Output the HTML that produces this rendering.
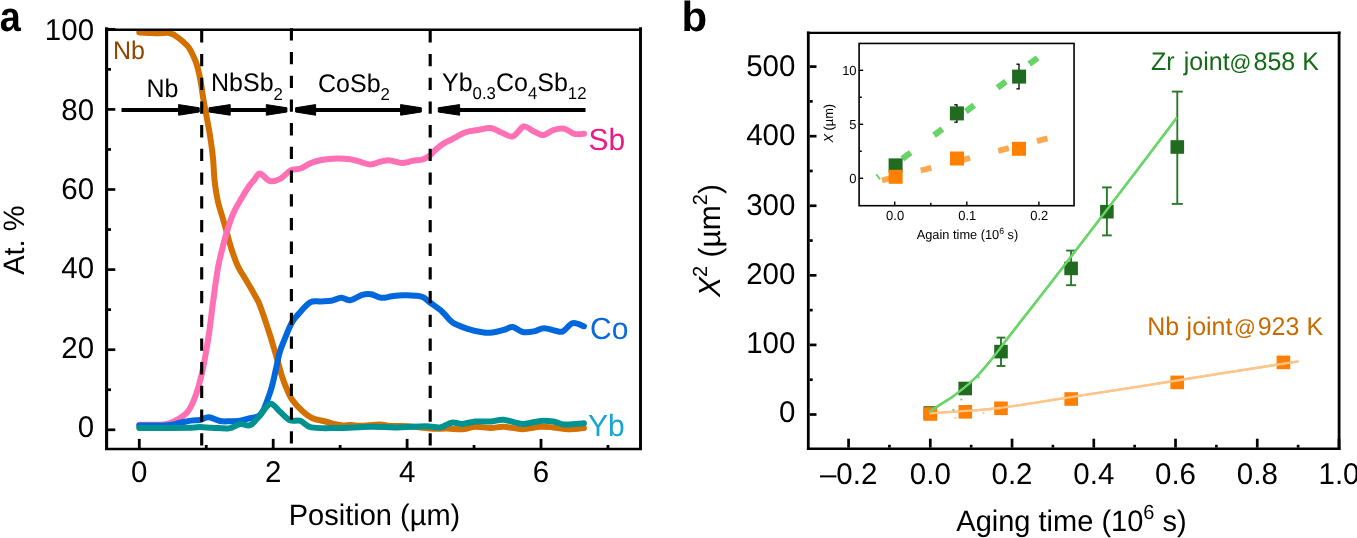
<!DOCTYPE html>
<html><head><meta charset="utf-8"><title>Figure</title>
<style>html,body{margin:0;padding:0;background:#fff;width:1357px;height:538px;overflow:hidden}</style>
</head><body>
<svg width="1357" height="538" viewBox="0 0 1357 538" text-rendering="geometricPrecision" style="display:block;font-family:'Liberation Sans', sans-serif;will-change:transform">
<rect width="1357" height="538" fill="#fff"/>
<text transform="translate(-0.3,30.6) scale(0.9,1) scale(1,1.0)" font-size="42" font-weight="bold" fill="#000">a</text>
<text x="681.5" y="31.4" font-size="42" font-weight="bold" fill="#000" transform="matrix(1,0,0,1.0,0,0.000)">b</text>
<path d="M139.30,32.40 C140.85,32.48 145.48,32.75 148.60,32.90 C151.72,33.05 154.60,33.30 158.00,33.30 C161.40,33.30 166.23,32.58 169.00,32.90 C171.77,33.22 172.43,33.88 174.60,35.20 C176.77,36.52 179.67,38.78 182.00,40.80 C184.33,42.82 186.73,44.82 188.60,47.30 C190.47,49.78 191.82,52.75 193.20,55.70 C194.58,58.65 195.87,61.78 196.90,65.00 C197.93,68.22 198.65,71.50 199.40,75.00 C200.15,78.50 200.72,81.83 201.40,86.00 C202.08,90.17 202.57,94.55 203.50,100.00 C204.43,105.45 205.88,112.55 207.00,118.70 C208.12,124.85 209.20,130.35 210.20,136.90 C211.20,143.45 212.27,150.68 213.00,158.00 C213.73,165.32 213.80,173.63 214.60,180.80 C215.40,187.97 216.65,195.47 217.80,201.00 C218.95,206.53 220.25,209.67 221.50,214.00 C222.75,218.33 223.63,221.17 225.30,227.00 C226.97,232.83 229.42,242.50 231.50,249.00 C233.58,255.50 235.38,260.83 237.80,266.00 C240.22,271.17 243.47,275.67 246.00,280.00 C248.53,284.33 250.92,288.33 253.00,292.00 C255.08,295.67 256.83,298.33 258.50,302.00 C260.17,305.67 261.47,309.67 263.00,314.00 C264.53,318.33 266.28,323.67 267.70,328.00 C269.12,332.33 270.28,336.00 271.50,340.00 C272.72,344.00 273.82,348.00 275.00,352.00 C276.18,356.00 277.40,359.83 278.60,364.00 C279.80,368.17 280.80,372.75 282.20,377.00 C283.60,381.25 285.37,385.75 287.00,389.50 C288.63,393.25 289.53,396.00 292.00,399.50 C294.47,403.00 298.40,407.38 301.80,410.50 C305.20,413.62 308.47,416.37 312.40,418.20 C316.33,420.03 320.68,420.32 325.40,421.50 C330.12,422.68 336.38,424.72 340.70,425.30 C345.02,425.88 347.95,424.92 351.30,425.00 C354.65,425.08 356.08,425.87 360.80,425.80 C365.52,425.73 374.70,424.57 379.60,424.60 C384.50,424.63 385.48,425.73 390.20,426.00 C394.92,426.27 401.27,425.78 407.90,426.20 C414.53,426.62 423.47,428.10 430.00,428.50 C436.53,428.90 441.70,428.48 447.10,428.60 C452.50,428.72 457.68,429.50 462.40,429.20 C467.12,428.90 470.68,427.00 475.40,426.80 C480.12,426.60 485.98,428.00 490.70,428.00 C495.42,428.00 498.40,426.60 503.70,426.80 C509.00,427.00 516.42,429.20 522.50,429.20 C528.58,429.20 535.08,427.10 540.20,426.80 C545.32,426.50 548.28,427.00 553.20,427.40 C558.12,427.80 564.58,429.10 569.70,429.20 C574.82,429.30 581.53,428.20 583.90,428.00" fill="none" stroke="#D37000" stroke-width="6.0" stroke-linejoin="round" stroke-linecap="round"/>
<path d="M139.30,424.80 C141.72,424.80 149.12,424.97 153.80,424.80 C158.48,424.63 163.17,424.83 167.40,423.80 C171.63,422.77 175.85,420.57 179.20,418.60 C182.55,416.63 185.27,414.60 187.50,412.00 C189.73,409.40 191.10,406.17 192.60,403.00 C194.10,399.83 195.27,396.67 196.50,393.00 C197.73,389.33 198.83,385.50 200.00,381.00 C201.17,376.50 202.42,371.33 203.50,366.00 C204.58,360.67 205.50,355.00 206.50,349.00 C207.50,343.00 208.50,337.17 209.50,330.00 C210.50,322.83 211.50,313.67 212.50,306.00 C213.50,298.33 214.50,290.83 215.50,284.00 C216.50,277.17 217.42,270.67 218.50,265.00 C219.58,259.33 220.67,255.33 222.00,250.00 C223.33,244.67 224.67,239.00 226.50,233.00 C228.33,227.00 230.67,219.50 233.00,214.00 C235.33,208.50 237.92,204.50 240.50,200.00 C243.08,195.50 246.17,190.42 248.50,187.00 C250.83,183.58 252.58,181.75 254.50,179.50 C256.42,177.25 257.45,173.25 260.00,173.50 C262.55,173.75 266.43,180.12 269.80,181.00 C273.17,181.88 276.73,180.57 280.20,178.80 C283.67,177.03 287.20,172.12 290.60,170.40 C294.00,168.68 297.20,169.73 300.60,168.50 C304.00,167.27 307.53,164.42 311.00,163.00 C314.47,161.58 317.07,160.75 321.40,160.00 C325.73,159.25 332.23,158.62 337.00,158.50 C341.77,158.38 346.10,158.73 350.00,159.30 C353.90,159.87 356.93,161.03 360.40,161.90 C363.87,162.77 367.32,164.58 370.80,164.50 C374.28,164.42 378.03,162.08 381.30,161.40 C384.57,160.72 386.95,160.13 390.40,160.40 C393.85,160.67 398.32,162.92 402.00,163.00 C405.68,163.08 409.02,161.52 412.50,160.90 C415.98,160.28 420.08,160.13 422.90,159.30 C425.72,158.47 427.45,157.33 429.40,155.90 C431.35,154.47 432.43,152.65 434.60,150.70 C436.77,148.75 439.58,146.07 442.40,144.20 C445.22,142.33 447.73,141.45 451.50,139.50 C455.27,137.55 460.58,134.08 465.00,132.50 C469.42,130.92 473.67,130.75 478.00,130.00 C482.33,129.25 487.10,127.58 491.00,128.00 C494.90,128.42 497.73,131.10 501.40,132.50 C505.07,133.90 509.32,137.40 513.00,136.40 C516.68,135.40 520.23,127.45 523.50,126.50 C526.77,125.55 529.35,129.27 532.60,130.70 C535.85,132.13 539.53,135.22 543.00,135.10 C546.47,134.98 549.92,131.08 553.40,130.00 C556.88,128.92 560.42,127.97 563.90,128.60 C567.38,129.23 570.95,132.93 574.30,133.80 C577.65,134.67 582.38,133.80 584.00,133.80" fill="none" stroke="#FF70B5" stroke-width="6.0" stroke-linejoin="round" stroke-linecap="round"/>
<path d="M139.30,425.60 C143.98,425.53 160.75,425.63 167.40,425.20 C174.05,424.77 175.27,423.77 179.20,423.00 C183.13,422.23 187.57,421.10 191.00,420.60 C194.43,420.10 196.85,420.55 199.80,420.00 C202.75,419.45 205.33,417.13 208.70,417.30 C212.07,417.47 216.62,420.33 220.00,421.00 C223.38,421.67 225.63,421.35 229.00,421.30 C232.37,421.25 236.65,421.22 240.20,420.70 C243.75,420.18 247.25,418.98 250.30,418.20 C253.35,417.42 256.30,417.37 258.50,416.00 C260.70,414.63 262.08,412.50 263.50,410.00 C264.92,407.50 265.88,403.97 267.00,401.00 C268.12,398.03 269.23,395.20 270.20,392.20 C271.17,389.20 271.85,386.83 272.80,383.00 C273.75,379.17 274.73,374.37 275.90,369.20 C277.07,364.03 278.37,356.93 279.80,352.00 C281.23,347.07 282.48,344.52 284.50,339.60 C286.52,334.68 289.37,326.98 291.90,322.50 C294.43,318.02 296.67,316.07 299.70,312.70 C302.73,309.33 306.62,304.18 310.10,302.30 C313.58,300.42 317.12,301.65 320.60,301.40 C324.08,301.15 327.53,301.40 331.00,300.80 C334.47,300.20 338.18,297.90 341.40,297.80 C344.62,297.70 346.83,300.68 350.30,300.20 C353.77,299.72 358.73,295.88 362.20,294.90 C365.67,293.92 367.88,293.82 371.10,294.30 C374.32,294.78 378.03,297.47 381.50,297.80 C384.97,298.13 388.18,296.72 391.90,296.30 C395.62,295.88 399.83,295.40 403.80,295.30 C407.77,295.20 412.48,295.38 415.70,295.70 C418.92,296.02 420.72,296.07 423.10,297.20 C425.48,298.33 426.77,300.05 430.00,302.50 C433.23,304.95 438.73,308.55 442.50,311.90 C446.27,315.25 448.42,319.78 452.60,322.60 C456.78,325.42 462.38,327.13 467.60,328.80 C472.82,330.47 479.32,332.07 483.90,332.60 C488.48,333.13 491.55,332.52 495.10,332.00 C498.65,331.48 502.27,330.33 505.20,329.50 C508.13,328.67 509.78,326.58 512.70,327.00 C515.62,327.42 519.15,331.27 522.70,332.00 C526.25,332.73 530.45,332.03 534.00,331.40 C537.55,330.77 540.45,328.32 544.00,328.20 C547.55,328.08 552.17,330.17 555.30,330.70 C558.43,331.23 559.88,332.65 562.80,331.40 C565.72,330.15 569.27,324.05 572.80,323.20 C576.33,322.35 582.13,325.78 584.00,326.30" fill="none" stroke="#0068DC" stroke-width="6.0" stroke-linejoin="round" stroke-linecap="round"/>
<path d="M139.30,428.00 C141.92,428.00 146.38,428.05 155.00,428.00 C163.62,427.95 183.53,427.85 191.00,427.70 C198.47,427.55 196.30,427.10 199.80,427.10 C203.30,427.10 207.13,427.48 212.00,427.70 C216.87,427.92 224.30,429.02 229.00,428.40 C233.70,427.78 236.65,424.55 240.20,424.00 C243.75,423.45 246.95,426.58 250.30,425.10 C253.65,423.62 256.97,418.65 260.30,415.10 C263.63,411.55 267.00,404.35 270.30,403.80 C273.60,403.25 276.82,409.05 280.10,411.80 C283.38,414.55 286.58,418.78 290.00,420.30 C293.42,421.82 297.07,419.72 300.60,420.90 C304.13,422.08 305.10,426.22 311.20,427.40 C317.30,428.58 327.37,428.10 337.20,428.00 C347.03,427.90 360.38,426.90 370.20,426.80 C380.02,426.70 386.87,427.50 396.10,427.40 C405.33,427.30 418.28,426.20 425.60,426.20 C432.92,426.20 435.63,427.98 440.00,427.40 C444.37,426.82 448.07,423.28 451.80,422.70 C455.53,422.12 458.47,424.10 462.40,423.90 C466.33,423.70 470.68,421.90 475.40,421.50 C480.12,421.10 485.98,421.80 490.70,421.50 C495.42,421.20 498.40,419.30 503.70,419.70 C509.00,420.10 516.42,423.70 522.50,423.90 C528.58,424.10 535.08,421.30 540.20,420.90 C545.32,420.50 549.27,420.90 553.20,421.50 C557.13,422.10 560.07,424.10 563.80,424.50 C567.53,424.90 572.25,424.10 575.60,423.90 C578.95,423.70 582.52,423.40 583.90,423.30" fill="none" stroke="#009290" stroke-width="6.0" stroke-linejoin="round" stroke-linecap="round"/>
<g stroke="#000" fill="none">
<line x1="106.6" y1="27.3" x2="106.6" y2="450.1" stroke-width="3.1"/>
<line x1="640.5" y1="27.3" x2="640.5" y2="450.1" stroke-width="2.9"/>
<line x1="105" y1="29.85" x2="642" y2="29.85" stroke-width="2.5"/>
<line x1="105" y1="448.9" x2="642" y2="448.9" stroke-width="2.5"/>
<line x1="108" y1="429.80" x2="115.3" y2="429.80" stroke-width="2.7"/>
<line x1="108" y1="349.70" x2="115.3" y2="349.70" stroke-width="2.7"/>
<line x1="108" y1="269.60" x2="115.3" y2="269.60" stroke-width="2.7"/>
<line x1="108" y1="189.50" x2="115.3" y2="189.50" stroke-width="2.7"/>
<line x1="108" y1="109.40" x2="115.3" y2="109.40" stroke-width="2.7"/>
<line x1="108" y1="29.30" x2="115.3" y2="29.30" stroke-width="2.7"/>
<line x1="108" y1="389.75" x2="111" y2="389.75" stroke-width="2.7"/>
<line x1="108" y1="309.65" x2="111" y2="309.65" stroke-width="2.7"/>
<line x1="108" y1="229.55" x2="111" y2="229.55" stroke-width="2.7"/>
<line x1="108" y1="149.45" x2="111" y2="149.45" stroke-width="2.7"/>
<line x1="108" y1="69.35" x2="111" y2="69.35" stroke-width="2.7"/>
<line x1="139.30" y1="438.9" x2="139.30" y2="448" stroke-width="2.8"/>
<line x1="273.20" y1="438.9" x2="273.20" y2="448" stroke-width="2.8"/>
<line x1="407.10" y1="438.9" x2="407.10" y2="448" stroke-width="2.8"/>
<line x1="541.00" y1="438.9" x2="541.00" y2="448" stroke-width="2.8"/>
<line x1="206.25" y1="445" x2="206.25" y2="448" stroke-width="2.8"/>
<line x1="340.15" y1="445" x2="340.15" y2="448" stroke-width="2.8"/>
<line x1="474.05" y1="445" x2="474.05" y2="448" stroke-width="2.8"/>
<line x1="607.95" y1="445" x2="607.95" y2="448" stroke-width="2.8"/>
<line x1="201.7" y1="30.3" x2="201.7" y2="448" stroke-width="3.1" stroke-dasharray="12.3 11.4"/>
<line x1="291.4" y1="28.3" x2="291.4" y2="448" stroke-width="3.1" stroke-dasharray="12.3 11.4"/>
<line x1="430.2" y1="30.3" x2="430.2" y2="448" stroke-width="3.1" stroke-dasharray="12.3 11.4"/>
<g stroke-width="4">
<line x1="121.5" y1="109.9" x2="186" y2="109.9"/>
<line x1="222" y1="109.9" x2="274" y2="109.9"/>
<line x1="308" y1="109.9" x2="408" y2="109.9"/>
<line x1="452" y1="109.9" x2="585.5" y2="109.9"/>
</g>
</g>
<path d="M178.6,104.60000000000001 L199.2,107.80000000000001 L199.2,112.0 L178.6,115.2 Z" fill="#000" stroke="#000" stroke-width="1" stroke-linejoin="round"/>
<path d="M230.2,104.60000000000001 L209.1,107.80000000000001 L209.1,112.0 L230.2,115.2 Z" fill="#000" stroke="#000" stroke-width="1" stroke-linejoin="round"/>
<path d="M266.3,104.60000000000001 L286.9,107.80000000000001 L286.9,112.0 L266.3,115.2 Z" fill="#000" stroke="#000" stroke-width="1" stroke-linejoin="round"/>
<path d="M315.6,104.60000000000001 L295.6,107.80000000000001 L295.6,112.0 L315.6,115.2 Z" fill="#000" stroke="#000" stroke-width="1" stroke-linejoin="round"/>
<path d="M400.6,104.60000000000001 L421.3,107.80000000000001 L421.3,112.0 L400.6,115.2 Z" fill="#000" stroke="#000" stroke-width="1" stroke-linejoin="round"/>
<path d="M459.6,104.60000000000001 L438.3,107.80000000000001 L438.3,112.0 L459.6,115.2 Z" fill="#000" stroke="#000" stroke-width="1" stroke-linejoin="round"/>
<g font-size="29.5" fill="#000" text-anchor="end">
<text x="94.1" y="437.10" transform="matrix(1,0,0,1.02,0,-8.742)">0</text>
<text x="94.1" y="357.73" transform="matrix(1,0,0,1.02,0,-7.155)">20</text>
<text x="94.1" y="278.36" transform="matrix(1,0,0,1.02,0,-5.567)">40</text>
<text x="94.1" y="198.99" transform="matrix(1,0,0,1.02,0,-3.980)">60</text>
<text x="94.1" y="119.62" transform="matrix(1,0,0,1.02,0,-2.392)">80</text>
<text x="94.1" y="40.25" transform="matrix(1,0,0,1.02,0,-0.805)">100</text>
</g>
<g font-size="29.5" fill="#000" text-anchor="middle">
<text x="139.3" y="482.3" transform="matrix(1,0,0,1.02,0,-9.646)">0</text>
<text x="273.2" y="482.3" transform="matrix(1,0,0,1.02,0,-9.646)">2</text>
<text x="407.1" y="482.3" transform="matrix(1,0,0,1.02,0,-9.646)">4</text>
<text x="541.0" y="482.3" transform="matrix(1,0,0,1.02,0,-9.646)">6</text>
</g>
<text x="374.5" y="525.3" font-size="29" text-anchor="middle" fill="#000" transform="matrix(1,0,0,1.02,0,-10.506)">Position (µm)</text>
<text transform="translate(24.3,240.2) rotate(-90) scale(1,1.02)" font-size="29" text-anchor="middle" fill="#000">At. %</text>
<g font-size="25" fill="#000">
<text x="146.5" y="96.7" transform="matrix(1,0,0,1.02,0,-1.934)">Nb</text>
<text x="211" y="90.8" transform="matrix(1,0,0,1.02,0,-1.816)">NbSb<tspan font-size="16.8" dy="8.7">2</tspan></text>
<text x="318" y="91.7" transform="matrix(1,0,0,1.02,0,-1.834)">CoSb<tspan font-size="16.8" dy="8.3">2</tspan></text>
<text x="442" y="91" transform="matrix(1,0,0,1.02,0,-1.820)">Yb<tspan font-size="16.8" dy="8.3">0.3</tspan><tspan dy="-8.3">Co</tspan><tspan font-size="16.8" dy="8.3">4</tspan><tspan dy="-8.3">Sb</tspan><tspan font-size="16.8" dy="8.3">12</tspan></text>
</g>
<text x="113" y="58.8" font-size="25" fill="#8F4700" transform="matrix(1,0,0,1.02,0,-1.176)">Nb</text>
<text x="588.5" y="150" font-size="30" fill="#EC1A86" transform="matrix(1,0,0,1.02,0,-3.000)">Sb</text>
<text x="590" y="338.9" font-size="30" fill="#0A69DC" transform="matrix(1,0,0,1.02,0,-6.778)">Co</text>
<text x="588" y="435.9" font-size="30" fill="#17A6D3" transform="matrix(1,0,0,1.02,0,-8.718)">Yb</text>
<g stroke="#000" fill="none">
<line x1="808.3" y1="31.6" x2="808.3" y2="450.1" stroke-width="2.8"/>
<line x1="1339.1" y1="31.6" x2="1339.1" y2="450.1" stroke-width="2.8"/>
<line x1="806.9" y1="32.8" x2="1340.5" y2="32.8" stroke-width="2.3"/>
<line x1="806.9" y1="448.8" x2="1340.5" y2="448.8" stroke-width="2.5"/>
<line x1="809.7" y1="414.50" x2="816.5" y2="414.50" stroke-width="2.7"/>
<line x1="809.7" y1="344.92" x2="816.5" y2="344.92" stroke-width="2.7"/>
<line x1="809.7" y1="275.34" x2="816.5" y2="275.34" stroke-width="2.7"/>
<line x1="809.7" y1="205.76" x2="816.5" y2="205.76" stroke-width="2.7"/>
<line x1="809.7" y1="136.18" x2="816.5" y2="136.18" stroke-width="2.7"/>
<line x1="809.7" y1="66.60" x2="816.5" y2="66.60" stroke-width="2.7"/>
<line x1="809.7" y1="379.71" x2="812.7" y2="379.71" stroke-width="2.7"/>
<line x1="809.7" y1="310.13" x2="812.7" y2="310.13" stroke-width="2.7"/>
<line x1="809.7" y1="240.55" x2="812.7" y2="240.55" stroke-width="2.7"/>
<line x1="809.7" y1="170.97" x2="812.7" y2="170.97" stroke-width="2.7"/>
<line x1="809.7" y1="101.39" x2="812.7" y2="101.39" stroke-width="2.7"/>
<line x1="848.56" y1="438.7" x2="848.56" y2="447.6" stroke-width="2.7"/>
<line x1="930.30" y1="438.7" x2="930.30" y2="447.6" stroke-width="2.7"/>
<line x1="1012.04" y1="438.7" x2="1012.04" y2="447.6" stroke-width="2.7"/>
<line x1="1093.78" y1="438.7" x2="1093.78" y2="447.6" stroke-width="2.7"/>
<line x1="1175.52" y1="438.7" x2="1175.52" y2="447.6" stroke-width="2.7"/>
<line x1="1257.26" y1="438.7" x2="1257.26" y2="447.6" stroke-width="2.7"/>
<line x1="1339.00" y1="438.7" x2="1339.00" y2="447.6" stroke-width="2.7"/>
<line x1="889.43" y1="444.8" x2="889.43" y2="447.6" stroke-width="2.7"/>
<line x1="971.17" y1="444.8" x2="971.17" y2="447.6" stroke-width="2.7"/>
<line x1="1052.91" y1="444.8" x2="1052.91" y2="447.6" stroke-width="2.7"/>
<line x1="1134.65" y1="444.8" x2="1134.65" y2="447.6" stroke-width="2.7"/>
<line x1="1216.39" y1="444.8" x2="1216.39" y2="447.6" stroke-width="2.7"/>
<line x1="1298.13" y1="444.8" x2="1298.13" y2="447.6" stroke-width="2.7"/>
</g>
<g font-size="29.5" fill="#000" text-anchor="end">
<text x="795.4" y="422.05" transform="matrix(1,0,0,1.02,0,-8.441)">0</text>
<text x="795.4" y="352.89" transform="matrix(1,0,0,1.02,0,-7.058)">100</text>
<text x="795.4" y="283.73" transform="matrix(1,0,0,1.02,0,-5.675)">200</text>
<text x="795.4" y="214.57" transform="matrix(1,0,0,1.02,0,-4.291)">300</text>
<text x="795.4" y="145.41" transform="matrix(1,0,0,1.02,0,-2.908)">400</text>
<text x="795.4" y="76.25" transform="matrix(1,0,0,1.02,0,-1.525)">500</text>
</g>
<g font-size="29.5" fill="#000" text-anchor="middle">
<text x="848.6" y="484" transform="matrix(1,0,0,1.02,0,-9.680)">–0.2</text>
<text x="930.3" y="484" transform="matrix(1,0,0,1.02,0,-9.680)">0.0</text>
<text x="1012.0" y="484" transform="matrix(1,0,0,1.02,0,-9.680)">0.2</text>
<text x="1093.8" y="484" transform="matrix(1,0,0,1.02,0,-9.680)">0.4</text>
<text x="1175.5" y="484" transform="matrix(1,0,0,1.02,0,-9.680)">0.6</text>
<text x="1257.3" y="484" transform="matrix(1,0,0,1.02,0,-9.680)">0.8</text>
<text x="1339.0" y="484" transform="matrix(1,0,0,1.02,0,-9.680)">1.0</text>
</g>
<text x="1071.5" y="531.2" font-size="29" text-anchor="middle" fill="#000" transform="matrix(1,0,0,1.02,0,-10.624)">Aging time (10<tspan font-size="20" dy="-12">6</tspan><tspan dy="12"> s)</tspan></text>
<text transform="translate(719.6,240.5) rotate(-90) scale(1,1.02)" font-size="30" text-anchor="middle" fill="#000"><tspan font-style="italic">X</tspan><tspan font-size="20" dy="-12.7">2</tspan><tspan dy="12.7"> (µm</tspan><tspan font-size="20" dy="-12.7">2</tspan><tspan dy="12.7">)</tspan></text>
<path d="M929.00,413.40 C935.17,412.98 954.17,411.80 966.00,410.90 C977.83,410.00 983.62,410.12 1000.00,408.00 C1016.38,405.88 1034.30,402.87 1064.30,398.20 C1094.30,393.53 1140.98,386.15 1180.00,380.00 C1219.02,373.85 1278.67,364.42 1298.40,361.30" fill="none" stroke="#FDC58A" stroke-width="2.3"/>
<path d="M929.00,412.20 C930.97,410.88 936.98,406.80 940.80,404.30 C944.62,401.80 948.48,399.58 951.90,397.20 C955.32,394.82 958.15,392.52 961.30,390.00 C964.45,387.48 967.63,384.98 970.80,382.10 C973.97,379.22 977.13,376.12 980.30,372.70 C983.47,369.28 986.63,365.48 989.80,361.60 C992.97,357.72 995.93,353.80 999.30,349.40 C1002.67,345.00 1002.85,344.42 1010.00,335.20 C1017.15,325.98 1029.20,310.88 1042.20,294.10 C1055.20,277.32 1074.00,252.75 1088.00,234.50 C1102.00,216.25 1111.37,204.10 1126.20,184.60 C1141.03,165.10 1168.53,128.68 1177.00,117.50" fill="none" stroke="#6BD46B" stroke-width="2.4"/>
<g stroke="#2A782A" stroke-width="1.9" fill="none"><line x1="1001" y1="337.6" x2="1001" y2="366"/><line x1="996.6" y1="337.6" x2="1005.4" y2="337.6"/><line x1="996.6" y1="366" x2="1005.4" y2="366"/></g>
<g stroke="#2A782A" stroke-width="1.9" fill="none"><line x1="1071.1" y1="250.6" x2="1071.1" y2="285.2"/><line x1="1066.1" y1="250.6" x2="1076.1" y2="250.6"/><line x1="1066.1" y1="285.2" x2="1076.1" y2="285.2"/></g>
<g stroke="#2A782A" stroke-width="1.9" fill="none"><line x1="1106.9" y1="187.4" x2="1106.9" y2="235.4"/><line x1="1102.0500000000002" y1="187.4" x2="1111.75" y2="187.4"/><line x1="1102.0500000000002" y1="235.4" x2="1111.75" y2="235.4"/></g>
<g stroke="#2A782A" stroke-width="1.9" fill="none"><line x1="1177.3" y1="91.6" x2="1177.3" y2="203.9"/><line x1="1171.8" y1="91.6" x2="1182.8" y2="91.6"/><line x1="1171.8" y1="203.9" x2="1182.8" y2="203.9"/></g>
<rect x="923.5" y="406.2" width="13.6" height="13.6" fill="#216B21"/>
<rect x="958.4" y="381.7" width="13.6" height="13.6" fill="#216B21"/>
<rect x="994.2" y="344.8" width="13.6" height="13.6" fill="#216B21"/>
<rect x="1064.3" y="261.6" width="13.6" height="13.6" fill="#216B21"/>
<rect x="1100.1" y="204.9" width="13.6" height="13.6" fill="#216B21"/>
<rect x="1170.5" y="140.2" width="13.6" height="13.6" fill="#216B21"/>
<rect x="923.5" y="407.2" width="13.6" height="13.6" fill="#FF8000"/>
<rect x="958.5" y="405.0" width="13.6" height="13.6" fill="#FF8000"/>
<rect x="994.2" y="401.5" width="13.6" height="13.6" fill="#FF8000"/>
<rect x="1064.4" y="392.2" width="13.6" height="13.6" fill="#FF8000"/>
<rect x="1170.4" y="375.6" width="13.6" height="13.6" fill="#FF8000"/>
<rect x="1276.6" y="355.6" width="13.6" height="13.6" fill="#FF8000"/>
<path d="M929.00,413.40 C935.17,412.98 954.17,411.80 966.00,410.90 C977.83,410.00 983.62,410.12 1000.00,408.00 C1016.38,405.88 1034.30,402.87 1064.30,398.20 C1094.30,393.53 1140.98,386.15 1180.00,380.00 C1219.02,373.85 1278.67,364.42 1298.40,361.30" fill="none" stroke="#FDC58A" stroke-width="2.3"/>
<path d="M929.00,412.20 C930.97,410.88 936.98,406.80 940.80,404.30 C944.62,401.80 948.48,399.58 951.90,397.20 C955.32,394.82 958.15,392.52 961.30,390.00 C964.45,387.48 967.63,384.98 970.80,382.10 C973.97,379.22 977.13,376.12 980.30,372.70 C983.47,369.28 986.63,365.48 989.80,361.60 C992.97,357.72 995.93,353.80 999.30,349.40 C1002.67,345.00 1002.85,344.42 1010.00,335.20 C1017.15,325.98 1029.20,310.88 1042.20,294.10 C1055.20,277.32 1074.00,252.75 1088.00,234.50 C1102.00,216.25 1111.37,204.10 1126.20,184.60 C1141.03,165.10 1168.53,128.68 1177.00,117.50" fill="none" stroke="#6BD46B" stroke-width="2.4"/>
<circle cx="961.3" cy="399.5" r="1.1" fill="#6BD46B"/>
<circle cx="953.4" cy="409.8" r="1.1" fill="#6BD46B"/>
<circle cx="978.7" cy="377.4" r="1.1" fill="#6BD46B"/>
<circle cx="955.4" cy="418" r="1.1" fill="#FDC58A"/>
<circle cx="983.5" cy="413" r="1.1" fill="#FDC58A"/>
<text y="70.1" font-size="25" fill="#156A15" transform="matrix(1,0,0,1.02,0,-1.402)"><tspan x="1150.9">Zr</tspan><tspan x="1183.8">joint</tspan><tspan x="1229.6" font-size="21.5">@</tspan><tspan x="1253.5">858</tspan><tspan x="1302.3">K</tspan></text>
<text y="335.1" font-size="25" fill="#C76A00" transform="matrix(1,0,0,1.02,0,-6.702)"><tspan x="1147.2">Nb</tspan><tspan x="1186.6">joint</tspan><tspan x="1234.1" font-size="21.5">@</tspan><tspan x="1257.7">923</tspan><tspan x="1306.5">K</tspan></text>
<rect x="859.1" y="43.45" width="214.95" height="162.25" fill="#fff" stroke="#000" stroke-width="1.6"/>
<g stroke="#000" stroke-width="1.4">
<line x1="860" y1="178.3" x2="863.2" y2="178.3"/>
<line x1="860" y1="124.3" x2="863.2" y2="124.3"/>
<line x1="860" y1="70.3" x2="863.2" y2="70.3"/>
<line x1="860" y1="151.3" x2="861.8" y2="151.3"/>
<line x1="860" y1="97.3" x2="861.8" y2="97.3"/>
<line x1="894.7" y1="201.5" x2="894.7" y2="205"/>
<line x1="966.8" y1="201.5" x2="966.8" y2="205"/>
<line x1="1038.9" y1="201.5" x2="1038.9" y2="205"/>
<line x1="930.8" y1="202.7" x2="930.8" y2="205"/>
</g>
<g font-size="13" fill="#000" text-anchor="end">
<text x="856.6" y="183.1" transform="matrix(1,0,0,1.02,0,-3.662)">0</text>
<text x="856.6" y="129.1" transform="matrix(1,0,0,1.02,0,-2.582)">5</text>
<text x="856.6" y="75.1" transform="matrix(1,0,0,1.02,0,-1.502)">10</text>
</g>
<g font-size="13" fill="#000" text-anchor="middle">
<text x="895.1" y="219.6" transform="matrix(1,0,0,1.02,0,-4.392)">0.0</text>
<text x="967.2" y="219.6" transform="matrix(1,0,0,1.02,0,-4.392)">0.1</text>
<text x="1039.3" y="219.6" transform="matrix(1,0,0,1.02,0,-4.392)">0.2</text>
</g>
<text x="967.5" y="238.8" font-size="12.8" text-anchor="middle" fill="#000" transform="matrix(1,0,0,1.02,0,-4.776)">Again time (10<tspan font-size="8.7" dy="-5.1">6</tspan><tspan dy="5.1"> s)</tspan></text>
<text transform="translate(833.0,123.2) rotate(-90) scale(1,1.02)" font-size="12.8" text-anchor="middle" fill="#000"><tspan font-style="italic">X</tspan> (µm)</text>
<line x1="877.5" y1="177.4" x2="1038.5" y2="57.2" stroke="#66D466" stroke-width="6.2" stroke-dasharray="10.4 29.2" stroke-dashoffset="8.6"/>
<line x1="882" y1="180.3" x2="1048" y2="138.3" stroke="#FFA852" stroke-width="5.9" stroke-dasharray="11 28.95" stroke-dashoffset="0"/>
<g stroke="#000" stroke-width="1.3" fill="none"><line x1="956.9" y1="104.8" x2="956.9" y2="122.2"/><line x1="954.3" y1="104.8" x2="957.5" y2="104.8"/><line x1="954.3" y1="122.2" x2="957.5" y2="122.2"/></g>
<g stroke="#000" stroke-width="1.3" fill="none"><line x1="1019" y1="64.2" x2="1019" y2="88.9"/><line x1="1016.4" y1="64.2" x2="1019.6" y2="64.2"/><line x1="1016.4" y1="88.9" x2="1019.6" y2="88.9"/></g>
<rect x="888.6" y="158.4" width="14" height="14" fill="#216B21"/>
<rect x="949.9" y="106.4" width="14" height="14" fill="#216B21"/>
<rect x="1012.1" y="69.6" width="14" height="14" fill="#216B21"/>
<rect x="888.6" y="169.8" width="14" height="14" fill="#FF8000"/>
<rect x="950.0" y="151.5" width="14" height="14" fill="#FF8000"/>
<rect x="1012.0" y="141.8" width="14" height="14" fill="#FF8000"/>
</svg>
</body></html>
